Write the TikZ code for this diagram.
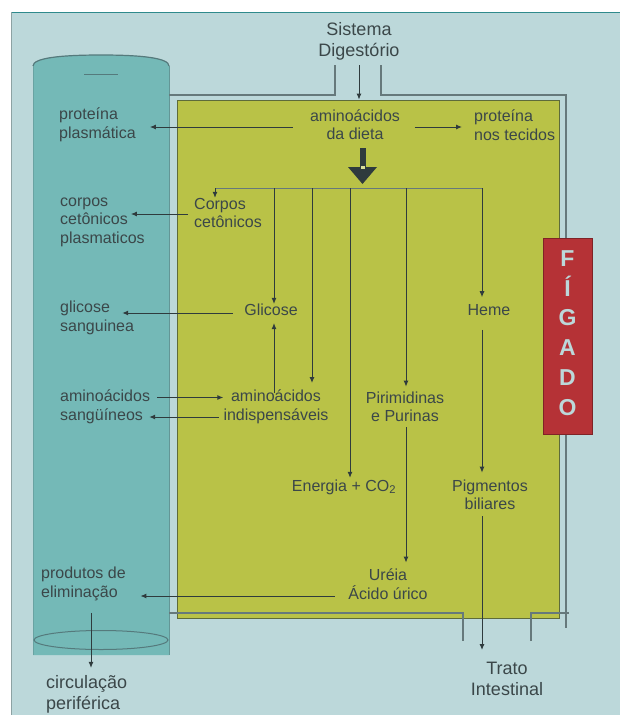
\documentclass[tikz,border=0pt]{standalone}
\usepackage{fontspec}
\setmainfont{Liberation Sans}
\usetikzlibrary{arrows.meta,calc}
\definecolor{bgc}{HTML}{BCD8DA}
\definecolor{topc}{HTML}{2E8A8C}
\definecolor{cylc}{HTML}{74B9B7}
\definecolor{cyledge}{HTML}{557A7C}
\definecolor{livc}{HTML}{B9C247}
\definecolor{livedge}{HTML}{5E6B3A}
\definecolor{figc}{HTML}{B53236}
\definecolor{txtc}{HTML}{3B4749}
\definecolor{arrc}{HTML}{2F3B3D}
\definecolor{linec}{HTML}{66797B}
\begin{document}
\begin{tikzpicture}[x=1pt,y=-1pt,
  lbl/.style={font=\fontsize{16}{18.5}\selectfont, text=txtc, inner sep=0pt, align=center},
  lbll/.style={lbl, align=left, anchor=west},
  big/.style={font=\fontsize{18}{21}\selectfont, text=txtc, inner sep=0pt},
  arr/.style={draw=arrc, line width=1pt, -{Latex[length=6pt,width=5pt]}},
  rim/.style={draw=linec, line width=1.1pt}]
\useasboundingbox (0,0) rectangle (620,715);
\fill[white] (0,0) rectangle (620,715);
\fill[bgc] (11,12) rectangle (620,715);
\draw[topc, line width=1.5pt] (11,12.7) -- (620,12.7);
\draw[bgc!75!black, line width=0.8pt] (11.4,12) -- (11.4,715);
% cylinder (blood)
\fill[cylc] (33,66) .. controls (33,58) and (60,55) .. (101,55) .. controls (142,55) and (169,58) .. (169,66) -- (169,655) -- (33,655) -- cycle;
\draw[cyledge, line width=1.2pt] (33,66) .. controls (33,58) and (60,55) .. (101,55) .. controls (142,55) and (169,58) .. (169,66);
\draw[cyledge!55!cylc, line width=1pt] (169,66) -- (169,655);
\draw[cyledge!35!cylc, line width=0.8pt] (33,66) -- (33,655);
\draw[cyledge, line width=0.9pt] (84,74) -- (118,74);
\draw[cyledge, line width=1pt] (101,640) ellipse [x radius=67pt, y radius=9.5pt];
% liver
\node[fill=livc, draw=livedge, line width=0.8pt, minimum width=382pt, minimum height=518pt, inner sep=0pt] (liver) at (368,359) {};
% outline rims
\draw[rim] (169,95) -- (335,95) -- (335,65);
\draw[rim] (381,65) -- (381,95) -- (566,95) -- (566,628);
\draw[rim] (169,613) -- (463,613) -- (463,641);
\draw[rim] (531,641) -- (531,613) -- (569,613);
% FIGADO
\node[fill=figc, draw=figc!70!black, line width=0.6pt, minimum width=49pt, minimum height=196pt, inner sep=0pt] (figbox) at (567.5,336) {};
\node[font=\fontsize{23}{29.8}\selectfont\bfseries, text=bgc, align=center, inner sep=0pt] (figtxt) at (567.5,333) {F\\Í\\G\\A\\D\\O};
% texts
\node[big, align=center] (sd) at (359,41) {Sistema\\Digestório};
\node[lbl] (aa) at (355,124.5) {aminoácidos\\da dieta};
\node[lbll] (pp) at (59,125) {proteína\\plasmática};
\node[lbll] (pt) at (474,125) {proteína\\nos tecidos};
\node[lbll] (cc) at (194,213) {Corpos\\cetônicos};
\node[lbll] (ccp) at (60,222) {corpos\\cetônicos\\plasmaticos};
\node[lbl] (gl) at (271,310) {Glicose};
\node[lbll] (gs) at (60,318) {glicose\\sanguinea};
\node[lbl] (ai) at (276,407) {aminoácidos\\indispensáveis};
\node[lbll] (as) at (60,407) {aminoácidos\\sangüíneos};
\node[lbl] (pir) at (405,407) {Pirimidinas\\e Purinas};
\node[lbl] (heme) at (489,310) {Heme};
\node[lbl] (en) at (344,487) {Energia + CO\textsubscript{2}};
\node[lbl] (pig) at (490,495) {Pigmentos\\biliares};
\node[lbl] (ur) at (388,584) {Uréia\\Ácido úrico};
\node[lbll] (pe) at (41,584) {produtos de\\eliminação};
\node[big, align=left, anchor=west] (cp) at (46,694) {circulação\\periférica};
\node[big, align=center] (ti) at (507,679) {Trato\\Intestinal};
% thick arrow
\fill[arrc] (360,148) rectangle (366,168);
\fill[arrc] (348,167) -- (377,167) -- (362.5,184) -- cycle;
\fill[livc!55!white] (361,166) rectangle (365,169);
% distribution bar
\coordinate (b1) at (215,188);
\coordinate (b2) at (274,188);
\coordinate (b3) at (312,188);
\coordinate (b4) at (350,188);
\coordinate (b5) at (406,188);
\coordinate (b6) at (482,188);
\draw[linec, line width=0.8pt] (b1) -- (b6);
\draw[arr] (b1) -- (b1 |- cc.north);
\draw[arr] (b2) -- (b2 |- gl.north);
\draw[arr, shorten >=7pt] (b3) -- (b3 |- ai.north);
\draw[arr, shorten >=1.5pt] (b4) -- (b4 |- en.north);
\draw[arr, shorten >=5pt] (b5) -- (b5 |- pir.north);
\draw[arr, shorten >=7pt] (b6) -- (b6 |- heme.north);
% other connectors
\draw[arr, shorten <=5pt] (sd.south) -- (sd.south |- liver.north);
\draw[arr] ($(aa.west)+(-17,2.5)$) -- ($(aa.west -| pp.east)+(14,2.5)$);
\draw[arr] ($(aa.east)+(14.5,2.5)$) -- ($(aa.east -| pt.west)+(-12,2.5)$);
\draw[arr] ($(cc.west)+(-6,1)$) -- ($(cc.west -| ccp.east)+(-14,1)$);
\draw[arr] ($(gl.west)+(-11.5,3)$) -- ($(gl.west -| gs.east)+(-12,3)$);
\draw[arr] ($(as.east)+(7,-9.5)$) -- ($(ai.west)+(0,-9.5)$);
\draw[arr] ($(ai.west)+(-4.5,10)$) -- ($(as.east)+(-1,10)$);
\draw[arr, shorten >=7pt] ($(ai.north -| b2)+(0,3)$) -- (gl.south -| b2);
\draw[arr, shorten <=14pt, shorten >=7pt] (heme.south -| b6) -- (pig.north -| b6);
\draw[arr, shorten <=6pt, shorten >=12pt] (pig.south -| b6) -- (ti.north -| b6);
\draw[arr, shorten <=5pt, shorten >=6pt] (pir.south -| b5) -- (ur.north -| b5);
\draw[arr] ($(ur.west)+(-13.5,12)$) -- ($(ur.west -| pe.east)+(14.5,12)$);
\coordinate (pex) at ($(pe.south west)+(50,0)$);
\draw[arr, shorten <=12pt, shorten >=7pt] (pex) -- (pex |- cp.north);
\end{tikzpicture}
\end{document}
